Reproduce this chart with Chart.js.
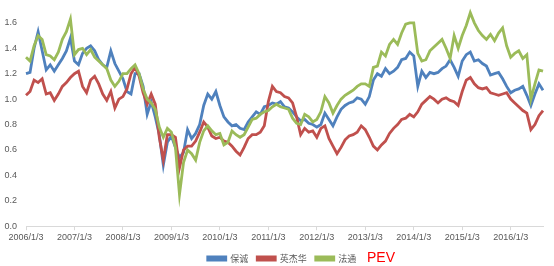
<!DOCTYPE html>
<html>
<head>
<meta charset="utf-8">
<script src="https://cdn.jsdelivr.net/npm/chart.js@4.4.1/dist/chart.umd.min.js"></script>
<style>
  html, body { margin: 0; padding: 0; background: #fff; }
  #wrap { position: relative; width: 554px; height: 266px; overflow: hidden; }
  #pev {
    position: absolute; left: 367px; top: 249px;
    font-family: 'Liberation Sans Narrow', 'Liberation Sans', sans-serif;
    font-size: 14px; line-height: 16px; color: #ff0000;
  }
</style>
</head>
<body>
<div id="wrap">
  <canvas id="chart" width="554" height="266"></canvas>
  <div id="pev">PEV</div>
</div>
<script>
// monthly readings, 2006/1 .. 2016/9
const baocheng = [
  1.20, 1.21, 1.40, 1.53, 1.38, 1.23, 1.27, 1.22, 1.27, 1.32, 1.38, 1.48,
  1.30, 1.27, 1.36, 1.40, 1.42, 1.38, 1.31, 1.27, 1.25, 1.38, 1.28, 1.22,
  1.16, 1.06, 1.04, 1.20, 1.20, 1.10, 0.88, 0.98, 0.86, 0.72, 0.48, 0.66,
  0.71, 0.62, 0.54, 0.58, 0.76, 0.69, 0.73, 0.80, 0.95, 1.04, 1.00, 1.06,
  0.95, 0.86, 0.82, 0.79, 0.80, 0.77, 0.76, 0.82, 0.86, 0.90, 0.88, 0.94,
  0.95, 0.97, 0.96, 0.98, 0.94, 0.93, 0.90, 0.86, 0.83, 0.84, 0.81, 0.80,
  0.78, 0.80, 0.89, 0.84, 0.79, 0.86, 0.92, 0.95, 0.97, 0.98, 1.01, 1.00,
  0.96, 1.02, 1.15, 1.20, 1.18, 1.24, 1.20, 1.22, 1.25, 1.31, 1.32, 1.37,
  1.34, 1.10, 1.22, 1.17, 1.21, 1.20, 1.21, 1.24, 1.26, 1.31, 1.25, 1.18,
  1.30, 1.35, 1.37, 1.30, 1.31, 1.28, 1.26, 1.19, 1.20, 1.21, 1.16, 1.10,
  1.05, 1.07, 1.08, 1.10, 1.03, 0.95, 1.04, 1.12, 1.07
];
const yingjiehua = [
  1.03, 1.06, 1.15, 1.13, 1.16, 1.04, 1.05, 0.99, 1.04, 1.10, 1.13, 1.17,
  1.20, 1.22, 1.10, 1.05, 1.15, 1.18, 1.12, 1.04, 0.99, 1.06, 0.93, 1.00,
  1.02, 1.08, 1.20, 1.25, 1.18, 1.05, 0.96, 1.04, 0.96, 0.70, 0.52, 0.72,
  0.72, 0.70, 0.46, 0.60, 0.63, 0.63, 0.67, 0.74, 0.82, 0.78, 0.71, 0.69,
  0.70, 0.67, 0.66, 0.63, 0.59, 0.56, 0.62, 0.69, 0.72, 0.72, 0.74, 0.79,
  0.98, 1.10, 1.06, 1.05, 1.02, 1.01, 0.97, 0.86, 0.72, 0.77, 0.74, 0.75,
  0.70, 0.77, 0.79, 0.69, 0.63, 0.57, 0.62, 0.68, 0.71, 0.72, 0.74, 0.79,
  0.76, 0.70, 0.63, 0.60, 0.64, 0.67, 0.73, 0.77, 0.80, 0.84, 0.85, 0.88,
  0.86, 0.90, 0.96, 0.99, 1.02, 1.00, 0.97, 1.00, 1.01, 0.99, 0.98, 0.95,
  1.06, 1.15, 1.17, 1.12, 1.09, 1.08, 1.09, 1.05, 1.04, 1.03, 1.04, 1.05,
  1.00, 0.97, 0.94, 0.91, 0.89, 0.76, 0.80, 0.87, 0.91
];
const fatong = [
  1.33, 1.30, 1.42, 1.50, 1.47, 1.35, 1.34, 1.31, 1.37, 1.47, 1.53, 1.63,
  1.35, 1.39, 1.40, 1.35, 1.39, 1.33, 1.30, 1.27, 1.24, 1.15, 1.10, 1.14,
  1.20, 1.20, 1.24, 1.27, 1.20, 1.08, 1.00, 0.97, 0.92, 0.78, 0.70, 0.77,
  0.74, 0.62, 0.25, 0.50, 0.60, 0.57, 0.52, 0.66, 0.75, 0.79, 0.75, 0.72,
  0.73, 0.64, 0.66, 0.75, 0.72, 0.70, 0.72, 0.78, 0.84, 0.85, 0.88, 0.90,
  0.91, 0.94, 0.96, 0.94, 0.93, 0.92, 0.85, 0.81, 0.80, 0.88, 0.86, 0.82,
  0.84, 0.90, 1.02, 0.97, 0.89, 0.95, 1.00, 1.03, 1.05, 1.07, 1.10, 1.12,
  1.12, 1.10, 1.25, 1.26, 1.37, 1.34, 1.43, 1.47, 1.43, 1.52, 1.59, 1.60,
  1.60, 1.36, 1.30, 1.31, 1.38, 1.41, 1.44, 1.47, 1.40, 1.32, 1.50, 1.40,
  1.50, 1.58, 1.68, 1.60, 1.54, 1.50, 1.47, 1.51, 1.46, 1.52, 1.56, 1.42,
  1.33, 1.36, 1.38, 1.32, 1.35, 1.00, 1.12, 1.23, 1.22
];
const seriesNames = ['保诚', '英杰华', '法通'];
const seriesColors = ['#4F81BD', '#C0504D', '#9BBB59'];

// category labels: one per month, only January ones are shown
const dateLabels = [];
for (let i = 0; i < baocheng.length; i++) {
  dateLabels.push((2006 + Math.floor(i / 12)) + '/' + (i % 12 + 1) + '/3');
}

const tickFont = { family: "'Liberation Sans', 'Noto Sans CJK SC', sans-serif", size: 9 };
const gray = '#595959';

const ctx = document.getElementById('chart').getContext('2d');
new Chart(ctx, {
  type: 'line',
  data: {
    labels: dateLabels,
    datasets: [baocheng, yingjiehua, fatong].map((d, i) => ({
      label: seriesNames[i],
      data: d,
      borderColor: seriesColors[i],
      backgroundColor: seriesColors[i],
      borderWidth: 2.8,
      pointRadius: 0,
      tension: 0,
      order: 3 - i  // green drawn on top, like the original
    }))
  },
  options: {
    responsive: false,
    animation: false,
    devicePixelRatio: 1,
    // negative padding: legend sits partly past the canvas bottom so the plot gets the room,
    // and the centred legend is nudged right
    layout: { padding: { left: 0, right: -10, top: 0, bottom: -7 } },
    plugins: {
      tooltip: { enabled: false },
      legend: {
        position: 'bottom',
        labels: {
          boxWidth: 18,
          boxHeight: 3,
          padding: 9,
          color: gray,
          font: { family: "'Noto Sans CJK SC', sans-serif", size: 9 },
          sort: (a, b) => a.datasetIndex - b.datasetIndex
        }
      }
    },
    scales: {
      x: {
        type: 'category',
        offset: false,
        border: { color: '#d9d9d9', width: 1 },
        grid: {
          drawOnChartArea: false,
          drawTicks: true,
          tickLength: 4,
          color: c => (c.index % 12 === 0 ? '#d9d9d9' : 'rgba(0,0,0,0)')
        },
        ticks: {
          autoSkip: false,
          maxRotation: 0,
          minRotation: 0,
          padding: 2,
          color: gray,
          font: tickFont,
          callback: function (v, i) { return i % 12 === 0 ? dateLabels[i] : ''; }
        },
        afterFit: s => { s.paddingRight = 11; }
      },
      y: {
        min: 0,
        max: 1.78,
        border: { display: false },
        grid: { display: false, drawTicks: false },
        ticks: {
          stepSize: 0.2,
          padding: 9,
          color: gray,
          font: tickFont,
          callback: v => v.toFixed(1)
        },
        afterBuildTicks: s => { s.ticks = s.ticks.filter(t => t.value <= 1.601); },
        afterFit: s => { s.width = 26; s.paddingTop = 0; s.paddingBottom = 0; }
      }
    }
  }
});
</script>
</body>
</html>
